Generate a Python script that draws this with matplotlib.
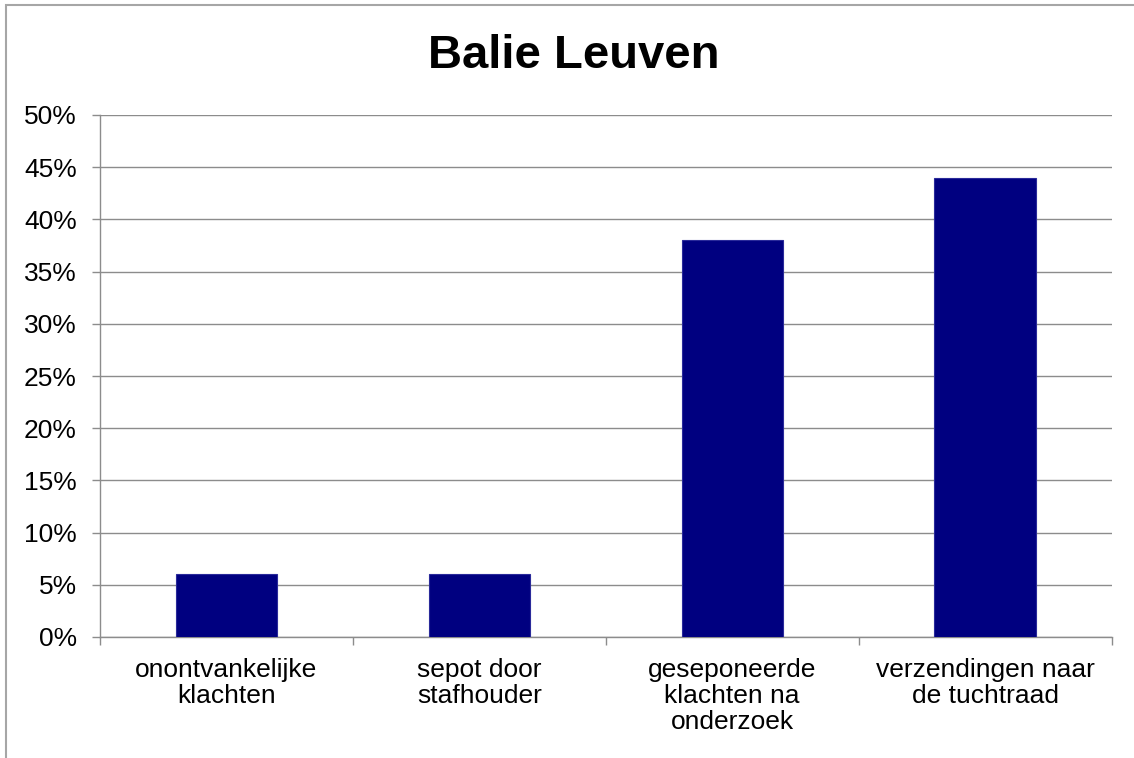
import matplotlib.pyplot as plt
from matplotlib.patches import Rectangle
import numpy as np

plt.rcParams['font.family'] = ['Liberation Sans', 'DejaVu Sans']

categories = ["onontvankelijke\nklachten", "sepot door\nstafhouder",
              "geseponeerde\nklachten na\nonderzoek", "verzendingen naar\nde tuchtraad"]
values = [6, 6, 38, 44]
yticks = [0, 5, 10, 15, 20, 25, 30, 35, 40, 45, 50]

fig = plt.figure(figsize=(11.34, 7.58), dpi=100)
# outer chart border (only left and top fall inside the image)
fig.patches.append(Rectangle((6/1134, -0.05), 1.2, (758-5)/758 + 0.05, transform=fig.transFigure,
                             fill=False, edgecolor='#a6a6a6', linewidth=1.5))

ax = fig.add_axes([100/1134, (758-637)/758, (1111.5-100)/1134, (637-115)/758])
x = np.arange(len(values))
ax.bar(x, values, width=0.4, color='#000080', edgecolor='#2a2a9a', linewidth=0.8, zorder=3)

ax.set_xlim(-0.5, len(values) - 0.5)
ax.set_ylim(0, 50)
ax.set_yticks(yticks)
ax.set_yticklabels([f"{v}%" for v in yticks], fontsize=19)
ax.yaxis.grid(True, color='#8c8c8c', linewidth=1, zorder=0)

ax.set_xticks(x)
ax.set_xticklabels(categories, fontsize=19, linespacing=1.12)
ax.tick_params(axis='x', length=0, pad=15)
ax.set_xticks(np.arange(len(values) + 1) - 0.5, minor=True)
ax.tick_params(axis='x', which='minor', length=5.8, color='#8c8c8c', width=1)
ax.tick_params(axis='y', length=5.8, color='#8c8c8c', width=1, pad=11)

for s in ['top', 'right']:
    ax.spines[s].set_visible(False)
for s in ['left', 'bottom']:
    ax.spines[s].set_color('#8c8c8c')
    ax.spines[s].set_linewidth(1)

fig.text(574/1134, 1 - 56/758, "Balie Leuven", fontsize=34, fontweight='bold',
         ha='center', va='center')

fig.savefig('out.png', dpi=100)
